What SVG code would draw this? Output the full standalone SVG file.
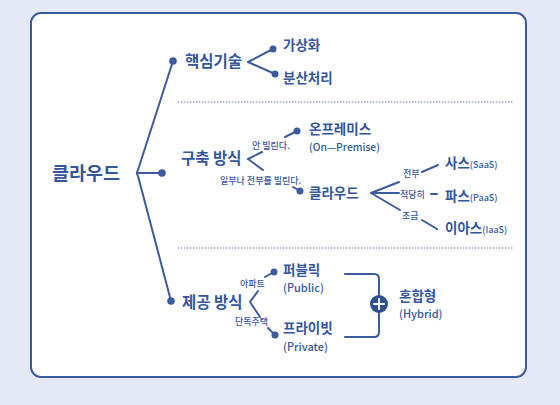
<svg xmlns="http://www.w3.org/2000/svg" width="560" height="405" viewBox="0 0 560 405">
<style>
text{font-family:"Noto Sans CJK KR","Noto Sans",sans-serif;fill:#34569c}
.main{font-size:18.5px;font-weight:700}
.l1{font-size:15.5px;font-weight:700}
.l2{font-size:13.5px;font-weight:700}
.en{font-size:11px;font-weight:500}
.en2{font-size:10.3px;font-weight:500}
.sm{font-size:9px;font-weight:500}
.tiny{font-size:9px;font-weight:500}
.ln{stroke:#3b5b9d;stroke-width:2;fill:none;stroke-linecap:round;stroke-linejoin:round}
.dot{fill:#3b5b9d}
.dash{stroke:#5b70a8;stroke-width:1.2;stroke-dasharray:1.4 1.6;fill:none}
</style>
<rect width="560" height="405" fill="#e5e9f5"/>
<rect x="31" y="13" width="495" height="364" rx="10" fill="#ffffff" stroke="#3b5b9d" stroke-width="2"/>

<g id="connectors">
  <path class="ln" d="M173,61 L138,170 Q136,173 138,176 L171,301"/>
  <path class="ln" d="M137,173 H162"/>
  <path class="ln" d="M273,49 L248,62 L275,74"/>
  <path class="ln" d="M262,152 L248,159 L263,170"/>
  <path class="ln" d="M285,137 L297,131"/>
  <path class="ln" d="M293,187 L300,191"/>
  <path class="ln" d="M399,182 L371,193 L399,193 M371,193 L400,210"/>
  <path class="ln" d="M422,172 L438,165"/>
  <path class="ln" d="M431,194 H437"/>
  <path class="ln" d="M422,220 L437,229"/>
  <path class="ln" d="M258,291 L250,302 L260,317"/>
  <path class="ln" d="M265,277 L274,272"/>
  <path class="ln" d="M268,328 L275,335"/>
  <path class="ln" d="M345,274 H374 Q379,274 379,279 V332 Q379,337 374,337 H345"/>
  <line class="dash" x1="178" y1="102" x2="513" y2="102"/>
  <line class="dash" x1="178" y1="248" x2="513" y2="248"/>
</g>

<g id="cloud"><text class="main" x="52" y="180">클라우드</text></g>

<g id="core">
  <circle class="dot" cx="173" cy="61" r="3.8"/>
  <text class="l1" x="185" y="66.5">핵심기술</text>
</g>
<g id="virtualization">
  <circle class="dot" cx="273" cy="49" r="3.5"/>
  <text class="l2" x="283" y="49.5">가상화</text>
</g>
<g id="distributed">
  <circle class="dot" cx="275" cy="74" r="3.5"/>
  <text class="l2" x="283" y="83">분산처리</text>
</g>

<g id="build">
  <circle class="dot" cx="162" cy="173" r="3.8"/>
  <text class="l1" x="181" y="163.5">구축 방식</text>
  <text class="sm" x="252" y="148.5">안 빌린다.</text>
  <text class="sm" x="220" y="183.5">일부나 전부를 빌린다.</text>
</g>
<g id="onpremise">
  <circle class="dot" cx="297" cy="131" r="3.5"/>
  <text class="l2" x="309" y="134">온프레미스</text>
  <text class="en2" x="309" y="151">(On—Premise)</text>
</g>
<g id="cloud2">
  <circle class="dot" cx="300" cy="191" r="3.5"/>
  <text class="l2" x="309" y="198">클라우드</text>
  <text class="tiny" x="403" y="176.5">전부</text>
  <text class="tiny" x="400" y="197.5">적당히</text>
  <text class="tiny" x="402" y="218.5">조금</text>
</g>
<g id="saas"><text class="l2" x="445" y="168">사스<tspan font-size="9" font-weight="500">(SaaS)</tspan></text></g>
<g id="paas"><text class="l2" x="445" y="201">파스<tspan font-size="9" font-weight="500">(PaaS)</tspan></text></g>
<g id="iaas"><text class="l2" x="445" y="233">이아스<tspan font-size="9" font-weight="500">(IaaS)</tspan></text></g>

<g id="provide">
  <circle class="dot" cx="171" cy="301" r="3.8"/>
  <text class="l1" x="182" y="308">제공 방식</text>
  <text class="tiny" x="240" y="286.5">아파트</text>
  <text class="tiny" x="235" y="324.5">단독주택</text>
</g>
<g id="public">
  <circle class="dot" cx="274" cy="272" r="3.5"/>
  <text class="l2" x="283" y="275">퍼블릭</text>
  <text class="en" x="283" y="292">(Public)</text>
</g>
<g id="private">
  <circle class="dot" cx="275" cy="335" r="3.5"/>
  <text class="l2" x="283" y="333">프라이빗</text>
  <text class="en" x="283" y="351">(Private)</text>
</g>
<g id="hybrid">
  <circle cx="379" cy="304" r="9" fill="#2f4f92"/>
  <path d="M379,299 V309 M374,304 H384" stroke="#ffffff" stroke-width="2" stroke-linecap="round"/>
  <text class="l2" x="399" y="301">혼합형</text>
  <text class="en" x="399" y="318">(Hybrid)</text>
</g>
</svg>
